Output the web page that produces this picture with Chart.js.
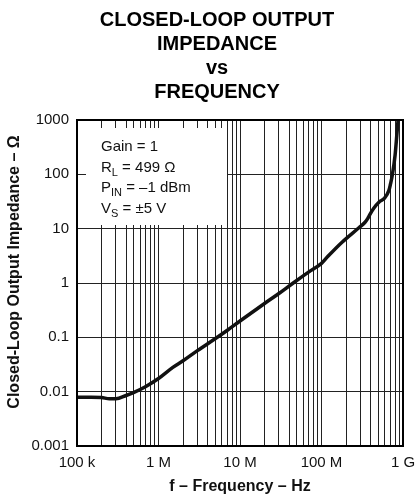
<!DOCTYPE html>
<html>
<head>
<meta charset="utf-8">
<script src="https://cdn.jsdelivr.net/npm/chart.js@4.4.1/dist/chart.umd.min.js"></script>
<style>
html, body { margin: 0; padding: 0; background: #fff; overflow: hidden; }
</style>
</head>
<body>
<canvas id="zoutChart" width="416" height="495"></canvas>
<script>
const FONT = "Arial, 'Liberation Sans', Helvetica, sans-serif";

// ---- data ----
const freqHz = [1e5, 1.5e5, 2e5, 2.5e5, 3e5, 4e5, 5e5, 7e5, 1e6, 1.5e6, 2e6, 3e6, 5e6, 7e6,
    1e7, 2e7, 3e7, 4.5e7, 7e7, 1e8, 1.2e8, 1.8e8, 2.9e8, 3.4e8, 3.7e8, 3.9e8, 4.4e8, 5.1e8,
    5.9e8, 6.7e8, 7.0e8, 7.4e8, 8.0e8, 8.4e8, 8.7e8];
const impedanceOhm = [0.0079, 0.0079, 0.0078, 0.0074, 0.0074, 0.0085, 0.0097, 0.0125, 0.0175, 0.028, 0.037, 0.057, 0.095, 0.135,
    0.2, 0.42, 0.64, 1.0, 1.6, 2.3, 3.1, 5.7, 10.5, 13, 15.5, 18, 24, 31,
    36, 50, 65, 97, 227, 530, 1000];

const xTickValues = [1e5, 1e6, 1e7, 1e8, 1e9];
const xTickLabels = ["100 k", "1 M", "10 M", "100 M", "1 G"];
const yTickValues = [0.001, 0.01, 0.1, 1, 10, 100, 1000];
const yTickLabels = ["0.001", "0.01", "0.1", "1", "10", "100", "1000"];

const titleLines = ["CLOSED-LOOP OUTPUT", "IMPEDANCE", "vs", "FREQUENCY"];
const yTitle = "Closed-Loop Output Impedance – Ω";
// each note line: [text, isSubscript]
const noteLines = [
    [["Gain = 1", false]],
    [["R", false], ["L", true], [" = 499 Ω", false]],
    [["P", false], ["IN", true], [" = –1 dBm", false]],
    [["V", false], ["S", true], [" = ±5 V", false]]
];

// minor grid: 1..9 in every decade
const xGridValues = [];
xTickValues.forEach(function(d, i) {
    if (i === xTickValues.length - 1) { xGridValues.push(d); return; }
    for (let k = 1; k <= 9; k++) xGridValues.push(k === 1 ? d : k * d);
});

// ---- annotation box, frame and titles ----
const decorPlugin = {
    id: "decor",
    beforeDatasetsDraw(chart) {
        const { ctx, chartArea } = chart;
        const bx = chartArea.left + 9, by = chartArea.top + 8;
        ctx.save();
        ctx.fillStyle = "#fff";
        ctx.fillRect(bx, by, 141, 97);
        ctx.fillStyle = "#111";
        ctx.textBaseline = "alphabetic";
        ctx.textAlign = "left";
        noteLines.forEach(function(parts, i) {
            let x = bx + 15;
            const y = by + 23 + i * 20.7;
            parts.forEach(function(p) {
                ctx.font = (p[1] ? "11px " : "15px ") + FONT;
                ctx.fillText(p[0], x, p[1] ? y + 4 : y);
                x += ctx.measureText(p[0]).width;
            });
        });
        ctx.restore();
    },
    afterDraw(chart) {
        const { ctx, chartArea } = chart;
        ctx.save();
        ctx.strokeStyle = "#000";
        ctx.lineWidth = 2;
        ctx.strokeRect(chartArea.left, chartArea.top, chartArea.right - chartArea.left, chartArea.bottom - chartArea.top);

        ctx.fillStyle = "#000";
        ctx.font = "bold 20px " + FONT;
        ctx.textAlign = "center";
        ctx.textBaseline = "alphabetic";
        const baselines = [26, 50, 74, 98];
        titleLines.forEach(function(t, i) { ctx.fillText(t, 217, baselines[i]); });

        ctx.fillStyle = "#111";
        ctx.font = "bold 16px " + FONT;
        ctx.textBaseline = "middle";
        ctx.translate(15, 272);
        ctx.rotate(-Math.PI / 2);
        ctx.fillText(yTitle, 0, 0);
        ctx.restore();
    }
};

const ctxZ = document.getElementById("zoutChart").getContext("2d");
new Chart(ctxZ, {
    type: "line",
    data: {
        datasets: [{
            data: freqHz.map(function(f, i) { return { x: f, y: impedanceOhm[i] }; }),
            borderColor: "#111",
            borderWidth: 3.5,
            pointRadius: 0,
            cubicInterpolationMode: "monotone",
            fill: false
        }]
    },
    options: {
        responsive: false,
        animation: false,
        layout: { padding: { top: 120, right: 13, left: 0, bottom: 0 } },
        plugins: {
            legend: { display: false },
            tooltip: { enabled: false }
        },
        scales: {
            x: {
                type: "logarithmic",
                min: 1e5,
                max: 1e9,
                afterBuildTicks: function(s) { s.ticks = xGridValues.map(function(v) { return { value: v }; }); },
                afterFit: function(s) { s.height = 49; s.paddingLeft = 0; s.paddingRight = 0; },
                ticks: {
                    autoSkip: false,
                    maxRotation: 0,
                    padding: 8,
                    color: "#111",
                    font: { family: FONT, size: 15 },
                    callback: function(v) {
                        const i = xTickValues.indexOf(v);
                        return i >= 0 ? xTickLabels[i] : "";
                    }
                },
                grid: { color: "#222", lineWidth: 1, drawTicks: false },
                border: { display: false },
                title: {
                    display: true,
                    text: "f – Frequency – Hz",
                    color: "#111",
                    padding: 0,
                    font: { family: FONT, size: 16, weight: "bold", lineHeight: 1 }
                }
            },
            y: {
                type: "logarithmic",
                min: 0.001,
                max: 1000,
                afterBuildTicks: function(s) { s.ticks = yTickValues.map(function(v) { return { value: v }; }); },
                afterFit: function(s) { s.width = 77; s.paddingTop = 0; s.paddingBottom = 0; },
                ticks: {
                    autoSkip: false,
                    padding: 8,
                    color: "#111",
                    font: { family: FONT, size: 15 },
                    callback: function(v) {
                        const i = yTickValues.indexOf(v);
                        return i >= 0 ? yTickLabels[i] : "";
                    }
                },
                grid: { color: "#222", lineWidth: 1, drawTicks: false },
                border: { display: false },
                title: { display: false }
            }
        }
    },
    plugins: [decorPlugin]
});
</script>
</body>
</html>
